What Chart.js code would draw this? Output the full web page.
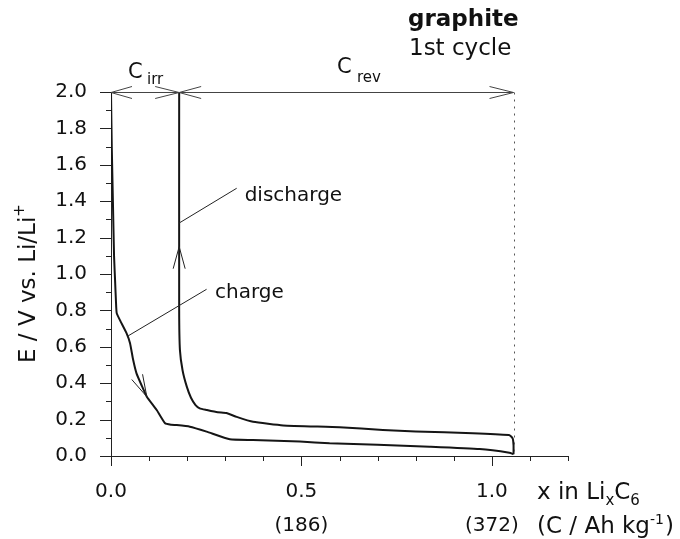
<!DOCTYPE html>
<html>
<head>
<meta charset="utf-8">
<script src="https://cdn.jsdelivr.net/npm/chart.js@4.4.1/dist/chart.umd.min.js"></script>
<style>
  html, body { margin: 0; padding: 0; background: #fff; }
  #wrap { width: 680px; height: 539px; position: relative; }
</style>
</head>
<body>
<div id="wrap"><canvas id="cycleChart"></canvas></div>
<script>
// first lithiation (charge) of graphite, x in LixC6 vs E / V
const chargeX = [0.000, 0.002, 0.005, 0.008, 0.011, 0.013, 0.015, 0.025, 0.041, 0.050, 0.058, 0.067, 0.080, 0.094,
                 0.120, 0.142, 0.158, 0.172, 0.207, 0.251, 0.312, 0.373, 0.496, 0.574, 0.700, 0.837, 0.968, 1.046, 1.057];
const chargeY = [2.000, 1.700, 1.400, 1.100, 0.950, 0.850, 0.785, 0.740, 0.674, 0.620, 0.530, 0.454, 0.390, 0.326,
                 0.253, 0.180, 0.172, 0.170, 0.161, 0.134, 0.092, 0.088, 0.079, 0.070, 0.062, 0.051, 0.038, 0.018, 0.010];
// delithiation (discharge) back to 2.0 V
const dischargeX = [1.057, 1.057, 1.055, 1.050, 1.045, 0.950, 0.800, 0.714, 0.600, 0.452, 0.373, 0.330, 0.303,
                    0.280, 0.251, 0.233, 0.222, 0.210, 0.199, 0.188, 0.181, 0.179, 0.179];
const dischargeY = [0.010, 0.060, 0.095, 0.108, 0.115, 0.125, 0.135, 0.143, 0.158, 0.168, 0.188, 0.215, 0.236,
                    0.240, 0.253, 0.262, 0.280, 0.320, 0.381, 0.470, 0.582, 0.800, 2.000];

const xLabelValues = [0.0, 0.5, 1.0];
const xLabelTop = ['0.0', '0.5', '1.0'];
const xLabelBottom = ['', '(186)', '(372)'];

// capacity markers: start, end of C_irr, end of C_rev
const capacityX = [0, 0.179, 1.057];
const capacityY = 2.0;

// arrows on the curves (tip position, direction in degrees, screen frame)
const arrowX = [0.094, 0.179];
const arrowY = [0.326, 1.15];
const arrowDir = [64, -90];

// annotation labels with leader lines
const noteText = ['discharge', 'charge'];
const noteFromX = [0.179, 0.045];
const noteFromY = [1.28, 0.66];
const noteToX = [0.330, 0.251];
const noteToY = [1.471, 0.916];
const noteTextX = [0.351, 0.273];
const noteTextY = [1.40, 0.87];

const FONT = '"DejaVu Sans", sans-serif';

function toPoints(xs, ys) {
  return xs.map((x, i) => ({ x: x, y: ys[i] }));
}

function openHead(ctx, x, y, angle, len, half) {
  // angle = direction the arrow points to
  const ux = Math.cos(angle), uy = Math.sin(angle);
  const bx = x - ux * len, by = y - uy * len;
  ctx.beginPath();
  ctx.moveTo(bx - uy * half, by + ux * half);
  ctx.lineTo(x, y);
  ctx.lineTo(bx + uy * half, by - ux * half);
  ctx.stroke();
}

const decorations = {
  id: 'decorations',
  afterDraw(chart) {
    const ctx = chart.ctx;
    const xs = chart.scales.x, ys = chart.scales.y;
    const area = chart.chartArea;
    ctx.save();
    ctx.strokeStyle = '#222';
    ctx.lineWidth = 1;

    // tick marks
    for (let i = 0; i <= 12; i++) {
      const px = Math.round(xs.getPixelForValue(i / 10)) + 0.5;
      const len = (i % 5 === 0) ? 10 : 5;
      ctx.beginPath();
      ctx.moveTo(px, area.bottom);
      ctx.lineTo(px, area.bottom + len);
      ctx.stroke();
    }
    for (let i = 0; i <= 20; i++) {
      const py = Math.round(ys.getPixelForValue(i / 10)) + 0.5;
      const len = (i % 2 === 0) ? 11 : 5;
      ctx.beginPath();
      ctx.moveTo(area.left - len, py);
      ctx.lineTo(area.left, py);
      ctx.stroke();
    }

    // capacity double arrows along 2.0 V
    const cy = Math.round(ys.getPixelForValue(capacityY)) + 0.5;
    const cx = capacityX.map(v => xs.getPixelForValue(v));
    ctx.strokeStyle = '#444';
    ctx.beginPath();
    ctx.moveTo(cx[0], cy);
    ctx.lineTo(cx[2], cy);
    ctx.stroke();
    openHead(ctx, cx[0], cy, Math.PI, 21, 6);
    openHead(ctx, cx[1], cy, 0, 24, 6);
    openHead(ctx, cx[1], cy, Math.PI, 22, 6);
    openHead(ctx, cx[2], cy, 0, 24, 6);

    // dotted end-of-capacity line
    ctx.setLineDash([2, 5]);
    ctx.strokeStyle = '#555';
    ctx.beginPath();
    ctx.moveTo(Math.round(cx[2]) + 0.5, cy);
    ctx.lineTo(Math.round(cx[2]) + 0.5, area.bottom);
    ctx.stroke();
    ctx.setLineDash([]);

    // direction arrows on curves
    ctx.strokeStyle = '#222';
    arrowX.forEach((v, i) => {
      openHead(ctx, xs.getPixelForValue(v), ys.getPixelForValue(arrowY[i]),
        arrowDir[i] * Math.PI / 180, 22, 6);
    });

    // leader lines and labels
    ctx.fillStyle = '#111';
    ctx.font = '20px ' + FONT;
    ctx.textBaseline = 'alphabetic';
    ctx.textAlign = 'left';
    noteText.forEach((t, i) => {
      ctx.beginPath();
      ctx.moveTo(xs.getPixelForValue(noteFromX[i]), ys.getPixelForValue(noteFromY[i]));
      ctx.lineTo(xs.getPixelForValue(noteToX[i]), ys.getPixelForValue(noteToY[i]));
      ctx.stroke();
      ctx.fillText(t, xs.getPixelForValue(noteTextX[i]), ys.getPixelForValue(noteTextY[i]));
    });

    // C_irr / C_rev
    ctx.font = '21px ' + FONT;
    ctx.fillText('C', 128, 78);
    ctx.fillText('C', 337, 73);
    ctx.font = '15px ' + FONT;
    ctx.fillText('irr', 147, 84);
    ctx.fillText('rev', 357, 82);

    // title
    ctx.font = 'bold 23px ' + FONT;
    ctx.fillText('graphite', 408, 26);
    ctx.font = '23px ' + FONT;
    ctx.fillText('1st cycle', 409, 55);

    // x axis title, two lines
    let x = 537;
    const parts1 = [['x in Li', 23, 0], ['x', 15, 6], ['C', 23, 0], ['6', 15, 6]];
    parts1.forEach(p => {
      ctx.font = p[1] + 'px ' + FONT;
      ctx.fillText(p[0], x, 499 + p[2]);
      x += ctx.measureText(p[0]).width;
    });
    x = 537;
    const parts2 = [['(C / Ah kg', 23, 0], ['-1', 14, -9], [')', 23, 0]];
    parts2.forEach(p => {
      ctx.font = p[1] + 'px ' + FONT;
      ctx.fillText(p[0], x, 533 + p[2]);
      x += ctx.measureText(p[0]).width + (p[1] < 20 ? 1 : 0);
    });

    // y axis title, rotated
    ctx.translate(35, 363);
    ctx.rotate(-Math.PI / 2);
    ctx.font = '23px ' + FONT;
    const yTitle = 'E / V vs. Li/Li';
    ctx.fillText(yTitle, 0, 0);
    const w = ctx.measureText(yTitle).width;
    ctx.font = '15px ' + FONT;
    ctx.fillText('+', w, -11);
    ctx.restore();
  }
};

const config = {
  type: 'scatter',
  data: {
    datasets: [
      {
        label: 'charge',
        data: toPoints(chargeX, chargeY),
        showLine: true,
        borderColor: '#151515',
        borderWidth: 2,
        pointRadius: 0,
        tension: 0.15
      },
      {
        label: 'discharge',
        data: toPoints(dischargeX, dischargeY),
        showLine: true,
        borderColor: '#151515',
        borderWidth: 2,
        pointRadius: 0,
        tension: 0.15
      }
    ]
  },
  options: {
    responsive: true,
    maintainAspectRatio: false,
    animation: false,
    layout: { padding: { left: 0, right: 112, top: 92, bottom: 0 } },
    scales: {
      x: {
        type: 'linear',
        min: 0,
        max: 1.2,
        afterFit(scale) { scale.height = 83; },
        afterBuildTicks(scale) {
          scale.ticks = xLabelValues.map(v => ({ value: v }));
        },
        grid: { display: false, drawTicks: false },
        border: { display: true, color: '#222', width: 1 },
        ticks: {
          autoSkip: false,
          maxRotation: 0,
          padding: 19,
          color: '#111',
          font: { family: FONT, size: 20, lineHeight: 1.68 },
          callback(value) {
            const i = xLabelValues.findIndex(v => Math.abs(v - value) < 1e-6);
            if (i < 0) return '';
            return xLabelBottom[i] ? [xLabelTop[i], xLabelBottom[i]] : xLabelTop[i];
          }
        }
      },
      y: {
        type: 'linear',
        min: 0,
        max: 2.0,
        afterFit(scale) { scale.width = 111; },
        grid: { display: false, drawTicks: false },
        border: { display: true, color: '#222', width: 1 },
        ticks: {
          stepSize: 0.2,
          padding: 24,
          color: '#111',
          font: { family: FONT, size: 20 },
          callback(value) { return value.toFixed(1); }
        }
      }
    },
    plugins: {
      legend: { display: false },
      tooltip: { enabled: false }
    }
  },
  plugins: [decorations]
};

new Chart(document.getElementById('cycleChart'), config);
</script>
</body>
</html>
